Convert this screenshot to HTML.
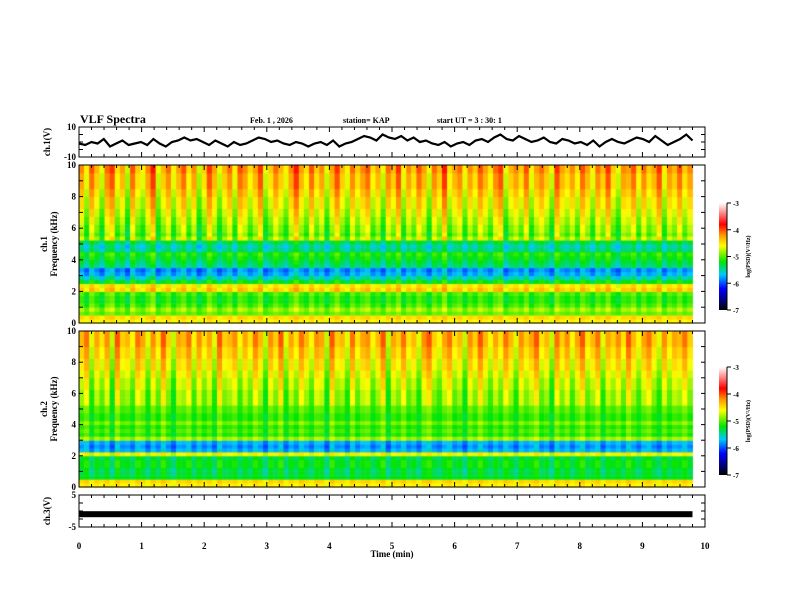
<!DOCTYPE html>
<html><head><meta charset="utf-8"><style>
html,body{margin:0;padding:0;background:#fff;}
#wrap{position:relative;width:792px;height:612px;overflow:hidden;}
canvas,svg{position:absolute;left:0;top:0;}
text{font-family:"Liberation Serif",serif;font-weight:bold;fill:#000;}
</style></head><body>
<div id="wrap">
<canvas id="cv" width="792" height="612"></canvas>
<svg id="sv" width="792" height="612">
<defs><linearGradient id="cmap" x1="0" y1="1" x2="0" y2="0">
<stop offset="0" stop-color="#000"/><stop offset="0.1" stop-color="#00008c"/><stop offset="0.2" stop-color="#0000ff"/>
<stop offset="0.33" stop-color="#00c8ff"/><stop offset="0.45" stop-color="#00e600"/><stop offset="0.6" stop-color="#ffff00"/>
<stop offset="0.7" stop-color="#ff9600"/><stop offset="0.8" stop-color="#ff0000"/><stop offset="0.9" stop-color="#ff8080"/><stop offset="1" stop-color="#ffffff"/>
</linearGradient></defs>
<text x="80" y="123" font-size="12">VLF Spectra</text>
<text x="250" y="123" font-size="8">Feb. 1  , 2026</text>
<text x="343" y="123" font-size="8">station= KAP</text>
<text x="437" y="123" font-size="8">start  UT =  3  : 30: 1</text>
<text transform="translate(50,142) rotate(-90)" font-size="9" text-anchor="middle">ch.1(V)</text>
<text transform="translate(47,244) rotate(-90)" font-size="9" text-anchor="middle">ch.1</text>
<text transform="translate(57,244) rotate(-90)" font-size="9" text-anchor="middle">Frequency  (kHz)</text>
<text transform="translate(47,409) rotate(-90)" font-size="9" text-anchor="middle">ch.2</text>
<text transform="translate(57,409) rotate(-90)" font-size="9" text-anchor="middle">Frequency  (kHz)</text>
<text transform="translate(50,511) rotate(-90)" font-size="9" text-anchor="middle">ch.3(V)</text>
<text x="392" y="557" font-size="9" text-anchor="middle">Time  (min)</text>
<g id="axes"></g>
</svg>
</div>
<script>
const minutes=[0,1,2,3,4,5,6,7,8,9,10];
const ch1Wave=[-1,-2,0,-1,2,-3,-1,1,-2,-1,0,-2,2,-1,-3,0,1,3,1,2,0,-2,1,-1,-3,0,-2,-1,1,3,2,0,1,-1,-2,0,-1,-3,-1,0,
-2,1,-3,-1,0,2,4,3,1,5,3,2,4,1,3,0,1,-1,-2,0,-3,-1,0,-2,1,2,0,3,5,2,1,4,2,0,1,3,0,-1,2,1,
-1,0,-2,1,-3,0,2,0,-1,1,3,2,0,4,1,-2,0,2,5,1];
const ch3Level=-1;
const ch1Prof=[-4.6,-4.5,-5.0,-4.9,-5.1,-5.2,-5.2,-5.1,-4.5,-4.6,-5.3,-5.6,-5.8,-5.9,-5.5,-5.4,-5.3,-5.2,-5.5,-5.6,-5.4,-4.9,-5.1,-5.0,-5.0,-4.9,-4.9,-4.8,-4.8,-4.7,-4.7,-4.7,-4.6,-4.6,-4.5,-4.5,-4.5,-4.5,-4.4,-4.4];
const ch2Prof=[-4.6,-4.5,-5.3,-5.4,-5.4,-5.3,-5.3,-5.4,-4.7,-5.8,-5.9,-5.8,-4.9,-5.2,-5.1,-5.2,-5.0,-5.2,-5.2,-5.1,-5.1,-5.0,-5.0,-5.0,-5.0,-4.9,-4.9,-4.9,-4.8,-4.8,-4.7,-4.7,-4.7,-4.6,-4.6,-4.6,-4.5,-4.5,-4.5,-4.5];
const ch1Act=[0.3,-0.2,0.5,0.1,-0.3,0.4,0.6,-0.1,0.2,-0.4,0.5,0.0,-0.2,0.3,0.7,-0.3,0.1,0.4,-0.2,0.2,0.5,-0.1,0.3,-0.4,0.0,0.6,0.2,-0.3,0.1,0.4,
-0.2,0.5,0.3,-0.1,0.2,0.6,-0.3,0.0,0.4,0.1,-0.2,0.3,0.7,0.2,-0.1,0.5,0.0,0.3,-0.3,0.2,0.6,0.1,-0.2,0.4,0.0,0.3,0.5,-0.1,0.2,-0.3,
0.4,0.1,0.6,-0.2,0.3,0.0,0.5,0.2,-0.3,0.4,0.1,0.7,-0.1,0.2,0.4,-0.2,0.3,0.0,0.5,0.2,-0.1,0.4,0.6,-0.3,0.1,0.3,0.0,0.5,-0.2,0.2,
0.4,0.1,-0.3,0.6,0.2,0.0,0.3,-0.1,0.5,0.2,-0.2,0.4,0.1,0.6,0.0,-0.3,0.3,0.2,0.5,-0.1,0.4,0.0,0.2,0.6,-0.2,0.3,0.1,0.5,0.0,0.3];
const ch2Act=[0.2,0.5,-0.2,0.3,0.0,0.4,-0.3,0.6,0.1,0.2,-0.1,0.5,0.3,-0.2,0.4,0.0,0.6,0.1,-0.3,0.3,0.2,0.5,-0.1,0.4,0.0,0.3,-0.2,0.6,0.1,0.2,
0.4,-0.1,0.3,0.0,0.5,0.2,-0.3,0.4,0.1,0.6,-0.2,0.3,0.0,0.5,0.2,-0.1,0.4,0.3,-0.3,0.6,0.1,0.2,-0.2,0.5,0.0,0.3,0.4,-0.1,0.2,0.6,
-0.3,0.3,0.1,0.5,0.0,0.2,-0.2,0.4,0.6,0.1,-0.1,0.3,0.5,0.0,0.2,-0.3,0.4,0.1,0.6,0.2,-0.1,0.3,0.0,0.5,0.2,-0.2,0.4,0.1,0.3,0.6,
0.0,0.2,-0.3,0.5,0.1,0.4,-0.1,0.3,0.6,0.0,0.2,0.5,-0.2,0.3,0.1,0.4,0.0,0.6,0.2,-0.1,0.3,0.5,0.1,-0.2,0.4,0.0,0.3,0.2,0.5,0.1];
const dataEndMin=9.8;
const X0=79,X1=705;
const xS=m=>X0+(X1-X0)*m/10;
const panels={ch1:{top:127,bot:157},s1:{top:165,bot:323},s2:{top:331,bot:487},ch3:{top:495,bot:527}};
function cmap(v){const t=Math.max(0,Math.min(1,(v+7)/4));
 const st=[[0,0,0,0],[.1,0,0,140],[.2,0,0,255],[.33,0,200,255],[.45,0,230,0],[.6,255,255,0],[.7,255,150,0],[.8,255,0,0],[.9,255,128,128],[1,255,255,255]];
 for(let i=1;i<st.length;i++){if(t<=st[i][0]){const a=st[i-1],b=st[i],u=(t-a[0])/(b[0]-a[0]);return `rgb(${a[1]+(b[1]-a[1])*u|0},${a[2]+(b[2]-a[2])*u|0},${a[3]+(b[3]-a[3])*u|0})`;}}return '#fff';}
const ctx=document.getElementById('cv').getContext('2d');
function drawSpec(p,prof,act){
 const yS=f=>p.bot-(p.bot-p.top)*f/10;const nT=act.length,nF=prof.length;
 for(let i=0;i<nT;i++){const xa=xS(dataEndMin*i/nT),xb=xS(dataEndMin*(i+1)/nT);
  for(let j=0;j<nF;j++){const f=10*j/nF;const w=f>5?0.8:(f>0.6?0.4:0.2);
   ctx.fillStyle=cmap(prof[j]+act[i]*w);
   const ya=yS(10*(j+1)/nF),yb=yS(10*j/nF);ctx.fillRect(xa,ya,xb-xa+0.5,yb-ya+0.5);}}}
drawSpec(panels.s1,ch1Prof,ch1Act);drawSpec(panels.s2,ch2Prof,ch2Act);
const NS='http://www.w3.org/2000/svg';const G=document.getElementById('axes');
function el(tag,at,name){const e=document.createElementNS(NS,tag);for(const k in at)e.setAttribute(k,at[k]);
 
 
 G.appendChild(e);return e;}
{const p=panels.ch1;const yS=v=>p.bot-(p.bot-p.top)*(v+10)/20;
 const pts=ch1Wave.map((v,i)=>xS(dataEndMin*i/(ch1Wave.length-1)).toFixed(1)+','+yS(v).toFixed(1)).join(' ');
 el('polyline',{points:pts,fill:'none',stroke:'#000','stroke-width':2.2},'ch1-waveform');}
{const p=panels.ch3;const yS=v=>p.bot-(p.bot-p.top)*(v+5)/10;
 el('rect',{x:X0,y:yS(ch3Level)-3,width:xS(dataEndMin)-X0,height:6,fill:'#000'},'ch3-waveform');}
for(const k in panels){const p=panels[k];
 el('rect',{x:X0,y:p.top,width:X1-X0,height:p.bot-p.top,fill:'none',stroke:'#000','stroke-width':1},k+'-frame');
 for(let m=0;m<=50;m++){const x=xS(m/5),L=m%5==0?5:3;
  el('line',{x1:x,x2:x,y1:p.top,y2:p.top+L,stroke:'#000'},k+'-top-tick');
  el('line',{x1:x,x2:x,y1:p.bot,y2:p.bot-L,stroke:'#000'},k+'-bottom-tick');}
}
function yTicks(p,n,labels,name){for(let i=0;i<=n;i++){const y=p.bot-(p.bot-p.top)*i/n;
 el('line',{x1:X0,x2:X0+4,y1:y,y2:y,stroke:'#000'},name+'-tick');el('line',{x1:X1,x2:X1-4,y1:y,y2:y,stroke:'#000'},name+'-tick');}
 labels.forEach(l=>{const y=p.bot-(p.bot-p.top)*l[0];const t=el('text',{x:X0-3,y:y+3,'font-size':9,'text-anchor':'end'},name+'-label');t.textContent=l[1];});}
yTicks(panels.ch1,4,[[0,'-10'],[1,'10']],'ch1-y');
yTicks(panels.s1,10,[[0,'0'],[.2,'2'],[.4,'4'],[.6,'6'],[.8,'8'],[1,'10']],'spec1-y');
yTicks(panels.s2,10,[[0,'0'],[.2,'2'],[.4,'4'],[.6,'6'],[.8,'8'],[1,'10']],'spec2-y');
yTicks(panels.ch3,4,[[0,'-5'],[1,'5']],'ch3-y');
minutes.forEach(m=>{const t=el('text',{x:xS(m),y:549,'font-size':9,'text-anchor':'middle'},'x-tick-label');t.textContent=m;});
[[203,310,'colorbar-ch1'],[367,475,'colorbar-ch2']].forEach(c=>{
 el('rect',{x:719,y:c[0],width:8,height:c[1]-c[0],fill:'url(#cmap)'},c[2]);
 el('line',{x1:727,x2:727,y1:c[0],y2:c[1],stroke:'#000'},c[2]+'-axis');
 [-3,-4,-5,-6,-7].forEach((v,i)=>{const y=c[0]+(c[1]-c[0])*i/4;
  el('line',{x1:727,x2:731,y1:y,y2:y,stroke:'#000'},c[2]+'-tick');
  const t=el('text',{x:733,y:y+3,'font-size':7},c[2]+'-tick-label');t.textContent=v;});
 const t=el('text',{transform:`translate(750,${(c[0]+c[1])/2}) rotate(-90)`,'font-size':6,'text-anchor':'middle'},c[2]+'-title');
 t.textContent='log(PSD)(V\u00B2/Hz)';});
</script>
</body></html>
